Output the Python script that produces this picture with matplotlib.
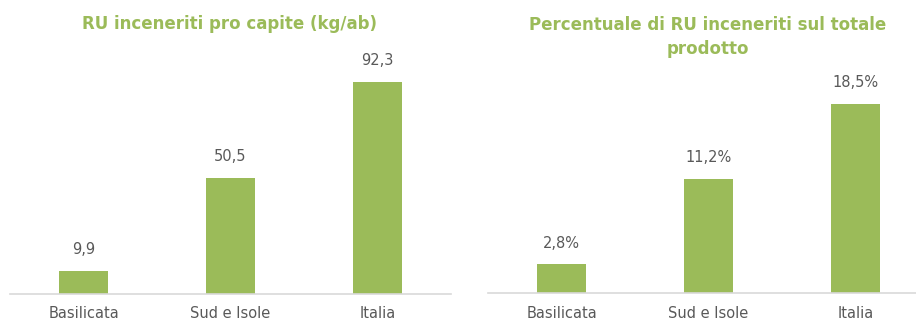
import matplotlib
matplotlib.use("Agg")
import matplotlib.pyplot as plt

categories = ["Basilicata", "Sud e Isole", "Italia"]
procapite = [9.9, 50.5, 92.3]
percentuale = [2.8, 11.2, 18.5]

title_left = "RU inceneriti pro capite (kg/ab)"
title_right = "Percentuale di RU inceneriti sul totale\nprodotto"

GREEN = "#9BBB59"
GREY = "#595959"
W, H = 916, 321

fig = plt.figure(figsize=(W / 100, H / 100), dpi=100)

ax1 = fig.add_axes([10 / W, 27 / H, 441 / W, 230 / H])
ax2 = fig.add_axes([488 / W, 28 / H, 428 / W, 204 / H])


def style(ax, values, ymax, xmax, fmt):
    x = range(len(categories))
    bars = ax.bar(x, values, width=0.33, color=GREEN)
    ax.set_ylim(0, ymax)
    ax.set_xlim(-0.5, xmax)
    ax.set_xticks(list(x))
    ax.set_xticklabels(categories, fontsize=10.5, color=GREY)
    ax.tick_params(axis="x", length=0, pad=9)
    ax.set_yticks([])
    for side in ["top", "right", "left"]:
        ax.spines[side].set_visible(False)
    ax.spines["bottom"].set_color("#D9D9D9")
    ax.spines["bottom"].set_linewidth(1.2)
    ax.patch.set_alpha(0)
    for b, v in zip(bars, values):
        ax.annotate(fmt(v), (b.get_x() + b.get_width() / 2, v),
                    xytext=(0, 10), textcoords="offset points",
                    ha="center", va="bottom", fontsize=10.5, color=GREY)


style(ax1, procapite, 100, 2.5, lambda v: f"{v:.1f}".replace(".", ","))
style(ax2, percentuale, 20, -0.5 + 428 / 147,
      lambda v: f"{v:.1f}%".replace(".", ","))

fig.text(230 / W, 1 - 24 / H, title_left, ha="center", va="center",
         fontsize=12, fontweight="semibold", color=GREEN)
fig.text(708 / W, 1 - 37 / H, title_right, ha="center", va="center",
         fontsize=12, fontweight="semibold", color=GREEN, linespacing=1.5)

fig.savefig("out.png", dpi=100)
